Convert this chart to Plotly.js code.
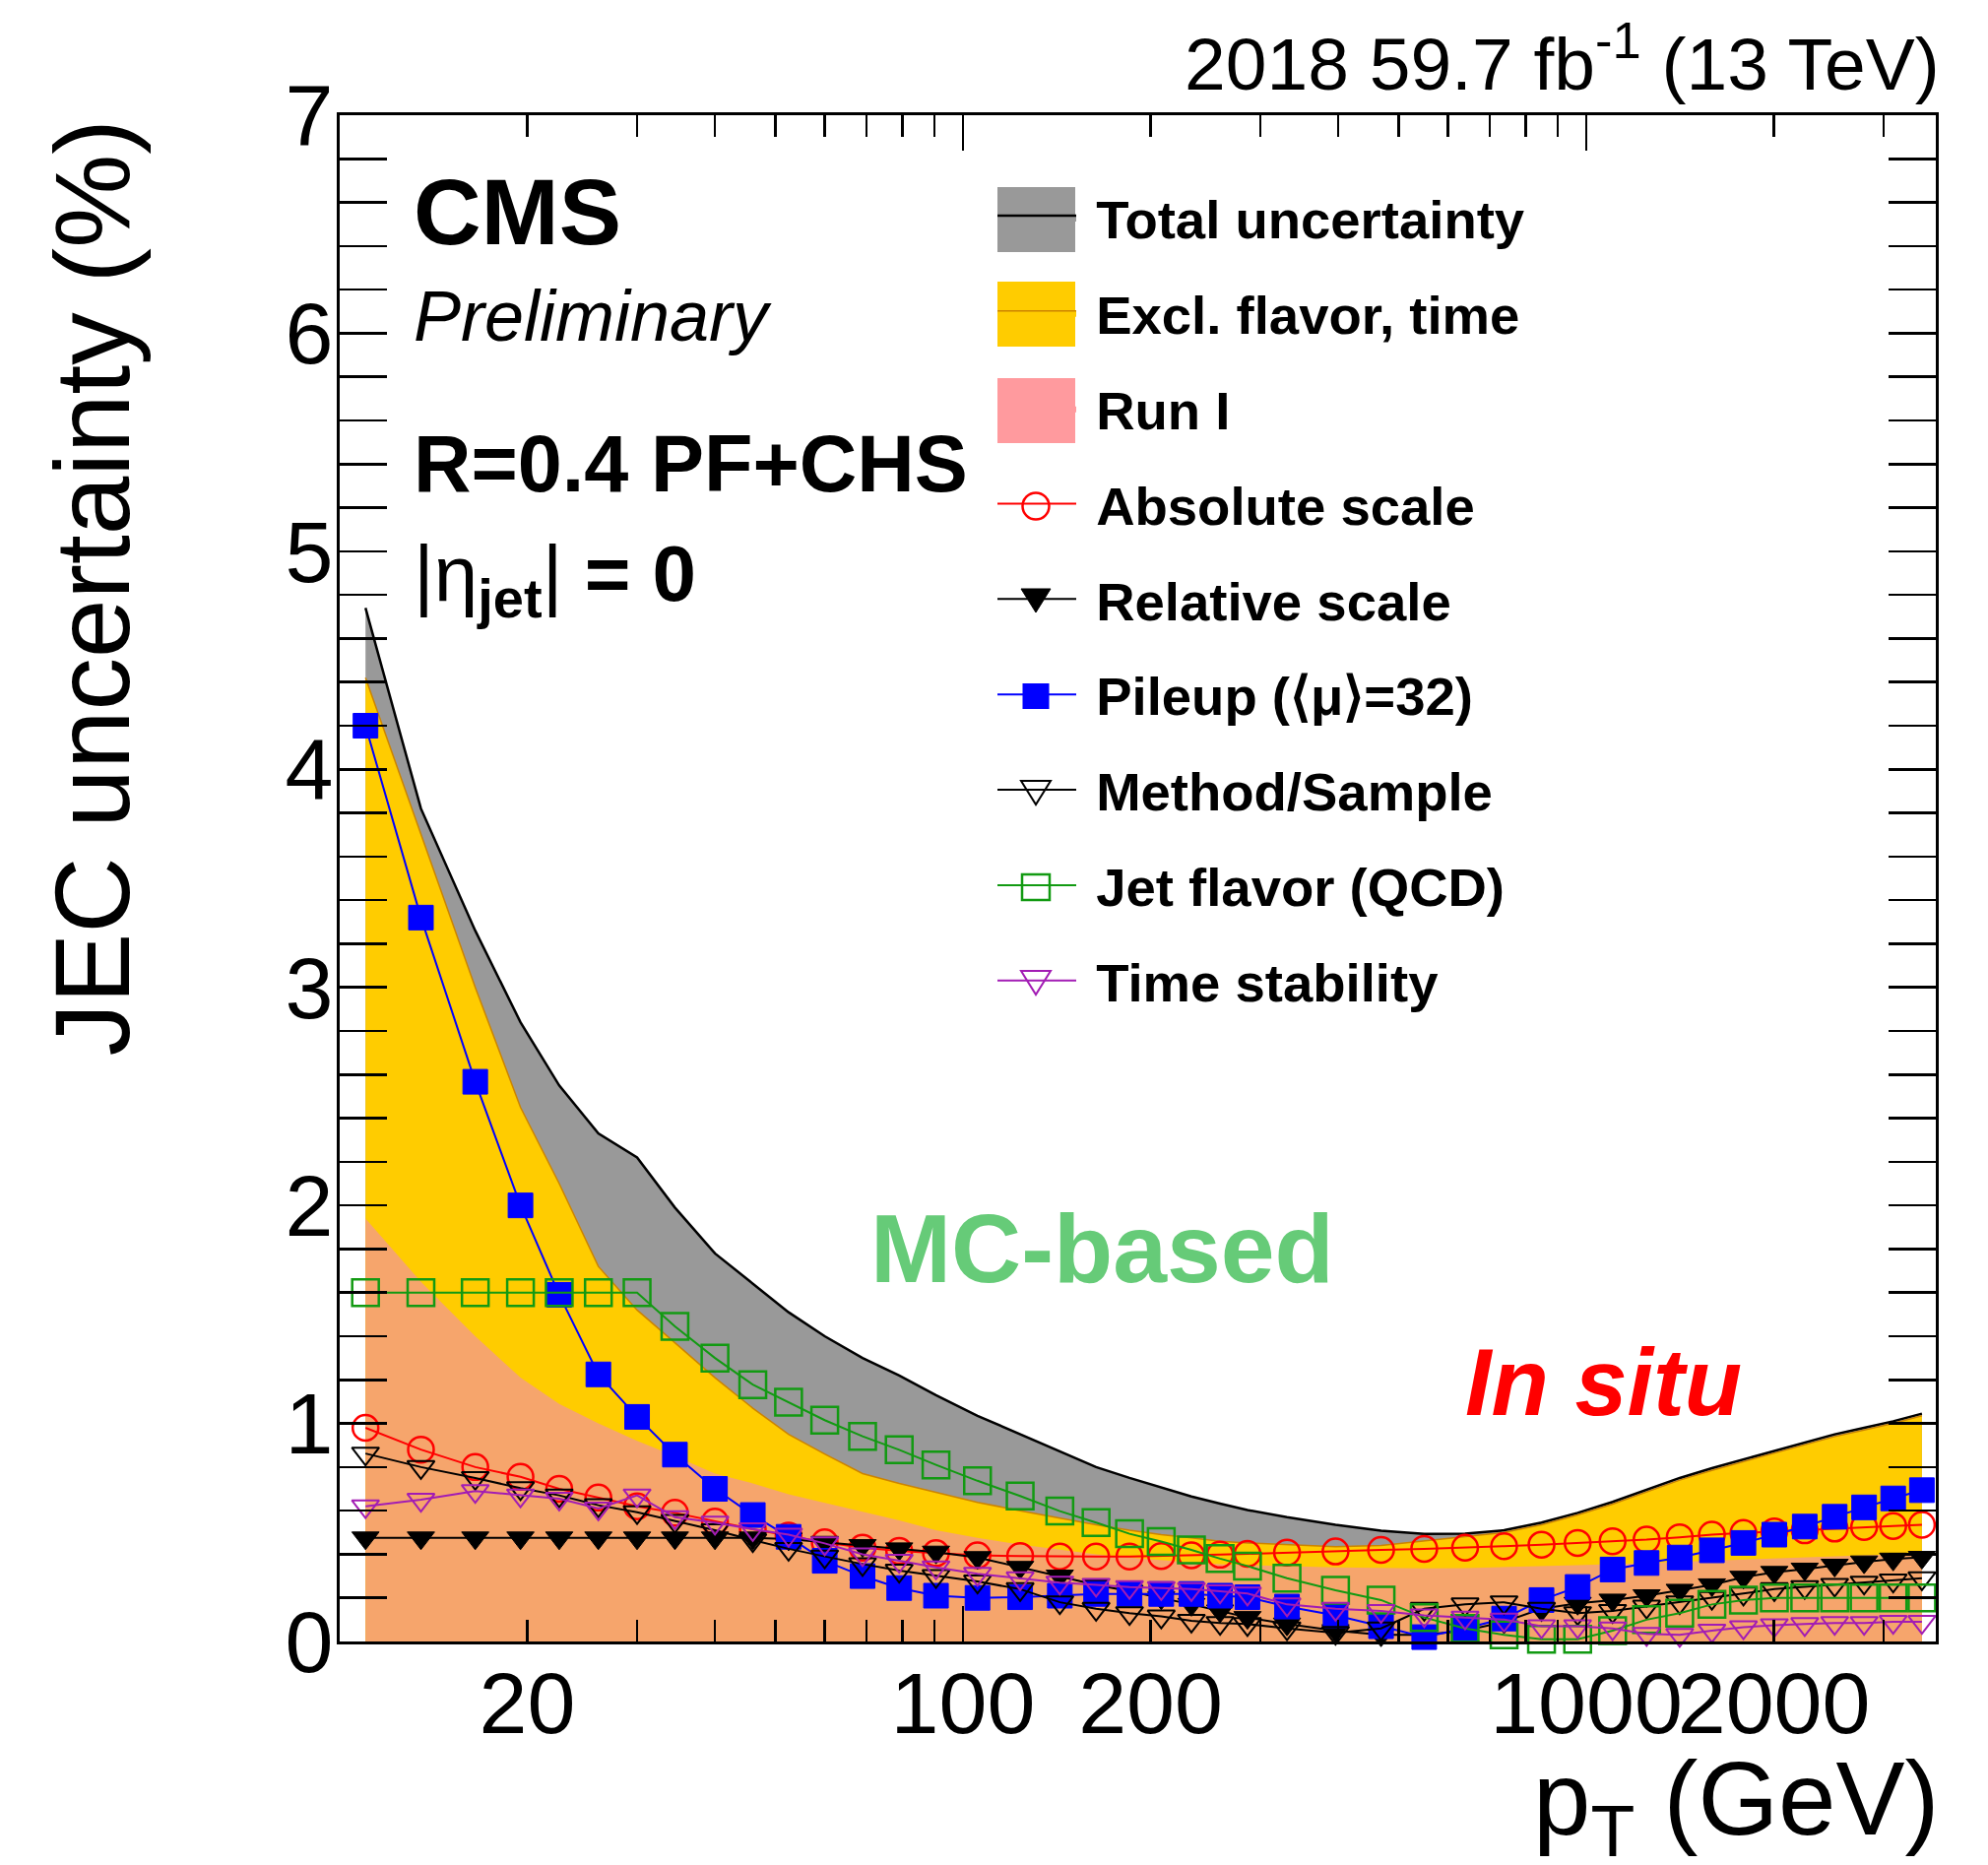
<!DOCTYPE html>
<html>
<head>
<meta charset="utf-8">
<script src="https://cdn.plot.ly/plotly-3.0.1.min.js"></script>
<style>html,body{margin:0;padding:0;background:#fff}#chart{width:2019px;height:1894px}</style>
</head>
<body>
<div id="chart"></div>
<script>
// ---- data ----
const ptMarkers = [11, 13.5, 16.5, 19.5, 22.5, 26, 30, 34.5, 40, 46, 52.5, 60,
  69, 79, 90.5, 105.5, 123.5, 143, 163.5, 185, 208, 232.5, 258.5, 286,
  331, 396, 468.5, 549.5, 639, 738, 847.5, 968.5, 1102, 1249.5,
  1412, 1590.5, 1787, 2003, 2241, 2503, 2790.5, 3107, 3455];

const totalUnc = [4.74, 3.82, 3.26, 2.84, 2.55, 2.33, 2.22, 1.99, 1.78, 1.64, 1.51, 1.40,
  1.30, 1.22, 1.13, 1.035, 0.95, 0.87, 0.80, 0.75, 0.705, 0.665, 0.632, 0.603,
  0.57, 0.535, 0.508, 0.493, 0.495, 0.51, 0.545, 0.59, 0.64, 0.695,
  0.75, 0.795, 0.835, 0.875, 0.915, 0.95, 0.98, 1.01, 1.045];

const exclFlavorTime = [4.42, 3.70, 3.00, 2.45, 2.10, 1.72, 1.52, 1.37, 1.21, 1.07, 0.95, 0.86,
  0.77, 0.725, 0.685, 0.638, 0.60, 0.565, 0.535, 0.51, 0.49, 0.475, 0.46, 0.452,
  0.443, 0.435, 0.44, 0.46, 0.48, 0.50, 0.535, 0.58, 0.63, 0.685,
  0.74, 0.785, 0.825, 0.865, 0.905, 0.94, 0.97, 1.00, 1.035];

const runI = [1.94, 1.65, 1.40, 1.21, 1.09, 1.00, 0.92, 0.85, 0.77, 0.725, 0.675, 0.635,
  0.595, 0.555, 0.51, 0.475, 0.445, 0.42, 0.40, 0.385, 0.372, 0.362, 0.355, 0.35,
  0.345, 0.34, 0.337, 0.335, 0.336, 0.34, 0.345, 0.35, 0.355, 0.36,
  0.365, 0.37, 0.375, 0.38, 0.385, 0.39, 0.395, 0.40, 0.405];

const absoluteScale = [0.98, 0.88, 0.80, 0.755, 0.70, 0.66, 0.62, 0.59, 0.55, 0.515, 0.485, 0.455,
  0.43, 0.415, 0.405, 0.395, 0.392, 0.39, 0.39, 0.39, 0.392, 0.395, 0.398, 0.402,
  0.408, 0.413, 0.42, 0.425, 0.43, 0.437, 0.444, 0.452, 0.46, 0.467,
  0.478, 0.49, 0.498, 0.505, 0.51, 0.518, 0.525, 0.53, 0.535];

const relativeScale = [0.475, 0.475, 0.475, 0.475, 0.475, 0.475, 0.475, 0.475, 0.475, 0.475, 0.47, 0.455,
  0.44, 0.425, 0.41, 0.385, 0.34, 0.30, 0.26, 0.23, 0.20, 0.17, 0.14, 0.11,
  0.08, 0.05, 0.03, 0.03, 0.05, 0.09, 0.15, 0.175, 0.19, 0.21,
  0.235, 0.26, 0.295, 0.317, 0.332, 0.35, 0.365, 0.378, 0.386];

const pileup = [4.20, 3.32, 2.567, 2.00, 1.59, 1.225, 1.03, 0.857, 0.70, 0.58, 0.48, 0.37,
  0.30, 0.245, 0.21, 0.20, 0.203, 0.21, 0.218, 0.218, 0.218, 0.218, 0.21, 0.203,
  0.16, 0.12, 0.07, 0.02, 0.06, 0.105, 0.19, 0.25, 0.33, 0.36,
  0.385, 0.418, 0.452, 0.49, 0.527, 0.572, 0.615, 0.656, 0.694];

const methodSample = [0.862, 0.80, 0.75, 0.703, 0.67, 0.625, 0.593, 0.553, 0.51, 0.465, 0.425, 0.39,
  0.355, 0.325, 0.30, 0.275, 0.24, 0.18, 0.15, 0.13, 0.115, 0.095, 0.085, 0.08,
  0.06, 0.04, 0.06, 0.15, 0.17, 0.18, 0.15, 0.13, 0.14, 0.16,
  0.18, 0.20, 0.22, 0.24, 0.25, 0.26, 0.27, 0.28, 0.29];

const jetFlavor = [1.6, 1.6, 1.6, 1.6, 1.6, 1.6, 1.6, 1.445, 1.30, 1.178, 1.097, 1.015,
  0.941, 0.879, 0.81, 0.737, 0.667, 0.598, 0.545, 0.494, 0.458, 0.42, 0.38, 0.346,
  0.29, 0.235, 0.19, 0.11, 0.06, 0.03, 0.01, 0.01, 0.05, 0.10,
  0.13, 0.17, 0.19, 0.20, 0.20, 0.20, 0.20, 0.20, 0.20];

const timeStability = [0.62, 0.65, 0.69, 0.67, 0.655, 0.61, 0.67, 0.57, 0.545, 0.515, 0.49, 0.45,
  0.40, 0.37, 0.34, 0.31, 0.29, 0.27, 0.26, 0.25, 0.245, 0.24, 0.23, 0.22,
  0.17, 0.15, 0.14, 0.12, 0.11, 0.10, 0.07, 0.07, 0.06, 0.035,
  0.03, 0.05, 0.065, 0.075, 0.08, 0.085, 0.085, 0.09, 0.09];

const xTickVals = [20, 100, 200, 1000, 2000];
const xTickText = ['20', '100', '200', '1000', '2000'];
const xMinorTicks = [30, 40, 50, 60, 70, 80, 90, 300, 400, 500, 600, 700, 800, 900, 3000];
const xLongTicks = [10, 100, 1000];
const xMin = 10, xMax = 3637;

const seriesNames = ['Total uncertainty', 'Excl. flavor, time', 'Run I', 'Absolute scale',
  'Relative scale', 'Pileup (\u27E8\u03BC\u27E9=32)', 'Method/Sample', 'Jet flavor (QCD)', 'Time stability'];

// ---- styling ----
const FONT = 'Liberation Sans, Arial, Helvetica, sans-serif';
const C_GRAY = '#999999', C_YEL = '#ffcc00', C_SALMON = '#f6a56c', C_PINK = '#ff9a9e';
const C_RED = '#ff0000', C_BLK = '#000000', C_BLUE = '#0000ff', C_GRN = '#129a12', C_PUR = '#a21cb4';
const NB = '\u00A0';

function band(y, name, fillcolor, line, group, show) {
  return {x: ptMarkers, y: y, name: NB + name, type: 'scatter', mode: 'lines', fill: 'tozeroy',
    fillcolor: fillcolor, line: line, legendgroup: group, showlegend: show, hoverinfo: 'skip'};
}
function series(y, color, symbol, size, lw, group, axis) {
  return {x: ptMarkers, y: y, type: 'scatter', mode: 'lines+markers',
    line: {color: color, width: 2}, cliponaxis: false, showlegend: false,
    marker: {symbol: symbol, size: size, color: color, line: {color: color, width: lw}},
    legendgroup: group, xaxis: axis || 'x', yaxis: 'y'};
}
function legendEntry(name, color, group) {
  return {x: [null], y: [null], name: NB + name, type: 'scatter', mode: 'lines',
    line: {color: color, width: 2}, legendgroup: group, showlegend: true};
}

const traces = [
  band(totalUnc, seriesNames[0], C_GRAY, {color: '#000', width: 2.5}, 'g1', true),
  band(exclFlavorTime, seriesNames[1], C_YEL, {color: '#cc8400', width: 1.5}, 'g2', true),
  band(runI, seriesNames[2], C_SALMON, {color: C_SALMON, width: 0}, 'g3', false),
  {x: [null], y: [null], name: NB + seriesNames[2], type: 'scatter', mode: 'lines', fill: 'tozeroy',
    fillcolor: C_PINK, line: {color: C_PINK, width: 0}, legendgroup: 'g3', showlegend: true},
  series(absoluteScale, C_RED, 'circle-open', 26, 2.5, 'g4'),
  series(relativeScale, C_BLK, 'triangle-down', 24, 1, 'g5'),
  series(pileup, C_BLUE, 'square', 25, 1, 'g6'),
  series(methodSample, C_BLK, 'triangle-down-open', 24, 2, 'g7'),
  series(jetFlavor, C_GRN, 'square-open', 27, 2.5, 'g8'),
  series(timeStability, C_PUR, 'triangle-down-open', 24, 2, 'g9', 'x2'),
  legendEntry(seriesNames[3], C_RED, 'g4'),
  legendEntry(seriesNames[4], C_BLK, 'g5'),
  legendEntry(seriesNames[5], C_BLUE, 'g6'),
  legendEntry(seriesNames[6], C_BLK, 'g7'),
  legendEntry(seriesNames[7], C_GRN, 'g8'),
  legendEntry(seriesNames[8], C_PUR, 'g9')
];

// plot-area helpers (paper coordinates from page pixels)
const L = 345, R = 1966, T = 117, B = 1667;
const px = v => (v - L) / (R - L);
const py = v => (B - v) / (B - T);
function pathPx(pts) {
  return 'M' + pts.map(p => px(p[0]).toFixed(5) + ',' + py(p[1]).toFixed(5)).join('L') + 'Z';
}

// legend symbol decorations (big swatches and markers as in the ROOT legend)
const LEG_X0 = 1013, LEG_X1 = 1092, LEG_CX = 1052;
const legendRows = [223, 319, 417, 514, 610, 707, 805, 901, 998];
const legendShapes = [];
[[C_GRAY, 0], [C_YEL, 1], [C_PINK, 2]].forEach(([c, i]) => {
  legendShapes.push({type: 'rect', xref: 'paper', yref: 'paper', x0: px(LEG_X0), x1: px(LEG_X1),
    y0: py(legendRows[i] + 33), y1: py(legendRows[i] - 33), fillcolor: c, line: {width: 0}, layer: 'above'});
});
function legTri(cy, color, filled, lw) {
  return {type: 'path', xref: 'paper', yref: 'paper',
    path: pathPx([[LEG_CX - 15, cy - 12], [LEG_CX + 15, cy - 12], [LEG_CX, cy + 12]]),
    fillcolor: filled ? color : 'rgba(0,0,0,0)', line: {color: color, width: lw}, layer: 'above'};
}
function legRect(cy, hw, hh, color, filled, lw) {
  return {type: 'rect', xref: 'paper', yref: 'paper', x0: px(LEG_CX - hw), x1: px(LEG_CX + hw),
    y0: py(cy + hh), y1: py(cy - hh), fillcolor: filled ? color : 'rgba(0,0,0,0)',
    line: {color: color, width: lw}, layer: 'above'};
}
legendShapes.push({type: 'circle', xref: 'paper', yref: 'paper', x0: px(LEG_CX - 13.5), x1: px(LEG_CX + 13.5),
  y0: py(legendRows[3] + 13.5), y1: py(legendRows[3] - 13.5), fillcolor: 'rgba(0,0,0,0)',
  line: {color: C_RED, width: 2.5}, layer: 'above'});
legendShapes.push(legTri(legendRows[4], C_BLK, true, 1));
legendShapes.push(legRect(legendRows[5], 13.5, 13, C_BLUE, true, 0));
legendShapes.push(legTri(legendRows[6], C_BLK, false, 2));
legendShapes.push(legRect(legendRows[7], 14, 13, C_GRN, false, 2.5));
legendShapes.push(legTri(legendRows[8], C_PUR, false, 2));

const tickCommon = {ticks: 'inside', tickwidth: 2.5, tickcolor: '#000', showgrid: false, zeroline: false};

const layout = {
  width: 2019, height: 1894,
  margin: {l: L, r: 2019 - R, t: T, b: 1894 - B, pad: 0},
  paper_bgcolor: '#ffffff', plot_bgcolor: '#ffffff',
  font: {family: FONT, color: '#000'},
  showlegend: true,
  xaxis: Object.assign({}, tickCommon, {
    type: 'log', range: [Math.log10(xMin), Math.log10(xMax)],
    tickmode: 'array', tickvals: xTickVals, ticktext: xTickText, ticklen: 22,
    showline: true, linewidth: 3, linecolor: '#000', mirror: 'allticks', tickangle: 0,
    tickfont: {family: FONT, size: 88, color: '#000'}, ticklabelstandoff: -16,
    minor: {tickmode: 'array', tickvals: xMinorTicks, ticks: 'inside', ticklen: 22, tickwidth: 2.5, tickcolor: '#000', showgrid: false}
  }),
  xaxis2: Object.assign({}, tickCommon, {
    type: 'log', range: [Math.log10(xMin), Math.log10(xMax)], overlaying: 'x', anchor: 'y', side: 'bottom',
    tickmode: 'array', tickvals: xLongTicks, ticklen: 36, showticklabels: false,
    showline: true, linewidth: 3, linecolor: '#000', mirror: 'allticks'
  }),
  yaxis: Object.assign({}, tickCommon, {
    range: [0, 7], tick0: 0, dtick: 1, ticklen: 48,
    showline: true, linewidth: 3, linecolor: '#000', mirror: 'allticks',
    tickfont: {family: FONT, size: 88, color: '#000'}, ticklabelstandoff: -14,
    minor: {dtick: 0.2, ticks: 'inside', ticklen: 24, tickwidth: 2.5, tickcolor: '#000', showgrid: false}
  }),
  legend: {
    x: px(1008), y: py(179), xanchor: 'left', yanchor: 'top',
    bgcolor: 'rgba(0,0,0,0)', borderwidth: 0,
    font: {family: FONT, size: 54.5, color: '#000', weight: 'bold'},
    itemwidth: 80, tracegroupgap: 23, traceorder: 'grouped', itemclick: false
  },
  shapes: legendShapes,
  annotations: [
    {text: '2018 59.7 fb<sup>-1</sup> (13 TeV)', xref: 'paper', yref: 'paper', x: px(1972), y: py(109), xanchor: 'right', yanchor: 'bottom', showarrow: false, font: {family: FONT, size: 75}},
    {text: '<b>CMS</b>', xref: 'paper', yref: 'paper', x: px(418), y: py(215), xanchor: 'left', yanchor: 'middle', showarrow: false, font: {family: FONT, size: 95}},
    {text: '<i>Preliminary</i>', xref: 'paper', yref: 'paper', x: px(418), y: py(321), xanchor: 'left', yanchor: 'middle', showarrow: false, font: {family: FONT, size: 72}},
    {text: '<b>R=0.4 PF+CHS</b>', xref: 'paper', yref: 'paper', x: px(418), y: py(471), xanchor: 'left', yanchor: 'middle', showarrow: false, font: {family: FONT, size: 81}},
    {text: '|\u03B7<sub><b>jet</b></sub>| <b>= 0</b>', xref: 'paper', yref: 'paper', x: px(418), y: py(588), xanchor: 'left', yanchor: 'middle', showarrow: false, font: {family: FONT, size: 80}},
    {text: '<b>MC-based</b>', xref: 'paper', yref: 'paper', x: px(882), y: py(1268), xanchor: 'left', yanchor: 'middle', showarrow: false, font: {family: FONT, size: 98.5, color: '#66cb78'}},
    {text: '<b><i>In situ</i></b>', xref: 'paper', yref: 'paper', x: px(1486), y: py(1404), xanchor: 'left', yanchor: 'middle', showarrow: false, font: {family: FONT, size: 95.5, color: '#ff0000'}},
    {text: 'JEC uncertainty (%)', xref: 'paper', yref: 'paper', x: px(93), y: py(120), xanchor: 'center', yanchor: 'top', textangle: -90, showarrow: false, font: {family: FONT, size: 107}},
    {text: 'p<sub>T</sub> (GeV)', xref: 'paper', yref: 'paper', x: px(1972), y: py(1766), xanchor: 'right', yanchor: 'top', showarrow: false, font: {family: FONT, size: 105}}
  ]
};

Plotly.newPlot('chart', traces, layout, {staticPlot: true});
</script>
</body>
</html>
